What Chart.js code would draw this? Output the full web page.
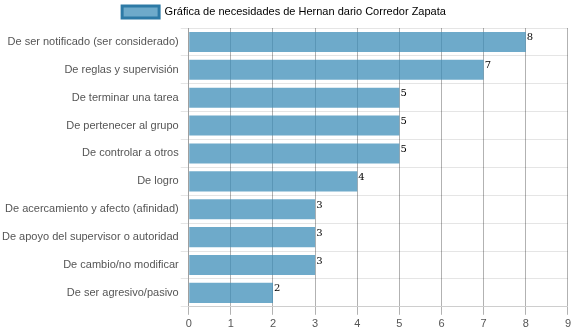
<!DOCTYPE html>
<html><head><meta charset="utf-8">
<script src="https://cdn.jsdelivr.net/npm/chart.js@4"></script>
<style>html,body{margin:0;padding:0;background:#fff}#wrap{width:574px;height:334px}</style>
</head><body><div id="wrap"><canvas id="c"></canvas></div>
<script>
const categories = ["De ser notificado (ser considerado)","De reglas y supervisión","De terminar una tarea","De pertenecer al grupo","De controlar a otros","De logro","De acercamiento y afecto (afinidad)","De apoyo del supervisor o autoridad","De cambio/no modificar","De ser agresivo/pasivo"];
const values = [8,7,5,5,5,4,3,3,3,2];
const seriesLabel = "Gráfica de necesidades de Hernan dario Corredor Zapata";
const xTicks = [0,1,2,3,4,5,6,7,8,9];

const valueLabels = {
  id:'valueLabels',
  afterDatasetsDraw(chart){
    const ctx = chart.ctx;
    const meta = chart.getDatasetMeta(0);
    ctx.save();
    ctx.font = '10px "DejaVu Serif", serif';
    ctx.fillStyle = '#000';
    ctx.textAlign = 'left';
    ctx.textBaseline = 'top';
    meta.data.forEach((bar,i)=>{
      ctx.fillText(String(values[i]), bar.x + 1, bar.y - bar.height/2 + 1);
    });
    ctx.restore();
  }
};

Chart.defaults.font.family = '"Liberation Sans", Arial, sans-serif';
Chart.defaults.font.size = 11;
Chart.defaults.color = '#555';

new Chart(document.getElementById('c'), {
  type:'bar',
  data:{labels:categories, datasets:[{label:seriesLabel, data:values,
    backgroundColor:'rgba(60,140,184,0.74)', borderColor:'#2d7aa6', borderWidth:0}]},
  options:{
    indexAxis:'y', responsive:true, maintainAspectRatio:false, animation:false,
    layout:{padding:{right:6,left:0,bottom:0,top:-2}},
    plugins:{
      legend:{position:'top', labels:{boxWidth:37, boxHeight:12, padding:8,
        generateLabels(chart){
          return [{text:seriesLabel, fillStyle:'rgba(60,140,184,0.74)', strokeStyle:'#2d7aa6', lineWidth:3, datasetIndex:0, hidden:false}];
        }}},
      tooltip:{enabled:false}
    },
    scales:{
      x:{min:0,max:9, afterBuildTicks(s){s.ticks = xTicks.map(v=>({value:v}));},
        ticks:{stepSize:1},
        grid:{color:'rgba(0,0,0,0.3)'}},
      y:{ticks:{padding:2}, grid:{color:'rgba(0,0,0,0.1)'}}
    }
  },
  plugins:[valueLabels]
});
</script></body></html>
